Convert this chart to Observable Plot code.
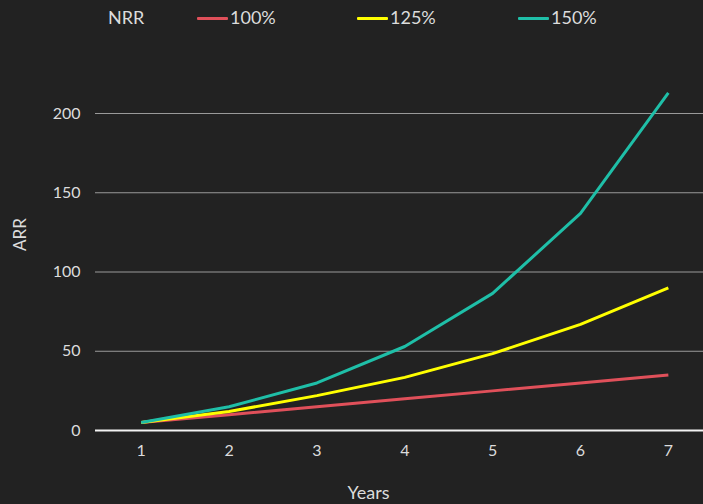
<!DOCTYPE html>
<html>
<head>
<meta charset="utf-8">
<script src="https://cdn.jsdelivr.net/npm/d3@7"></script>
<script src="https://cdn.jsdelivr.net/npm/@observablehq/plot@0.6"></script>
<style>
  html, body { margin: 0; padding: 0; background: #222222; }
  #wrap { width: 703px; height: 504px; background: #222222; font-family: "Lato", "Open Sans", sans-serif; color: #dcdcdc; }
  #legend { position: relative; height: 40px; width: 703px; }
  #legend .t { position: absolute; top: 6px; font-size: 18px; line-height: 22px; }
  #legend .sw { position: absolute; top: 17px; width: 31px; height: 3px; border-radius: 1px; }
  svg { display: block; }
</style>
</head>
<body>
<div id="wrap">
  <div id="legend"></div>
  <div id="chart"></div>
</div>
<script>
const years = [1, 2, 3, 4, 5, 6, 7];
const nrr100 = [5, 10, 15, 20, 25, 30, 35];
const nrr125 = [5, 12, 22, 33.5, 48.5, 67, 90];
const nrr150 = [5, 15, 30, 53, 86.5, 137, 213];
const seriesNames = ["100%", "125%", "150%"];
const seriesColors = ["#e0505a", "#ffff00", "#1fbfa8"];
const yTicks = [0, 50, 100, 150, 200];
const legendTitle = "NRR";

const seriesValues = [nrr100, nrr125, nrr150];
const data = [];
seriesNames.forEach((name, i) => {
  years.forEach((yr, j) => data.push({ year: yr, arr: seriesValues[i][j], series: name }));
});

// Legend
const legend = document.getElementById("legend");
const title = document.createElement("span");
title.className = "t";
title.style.left = "108px";
title.textContent = legendTitle;
legend.appendChild(title);
const swLeft = [197, 357, 518];
seriesNames.forEach((name, i) => {
  const sw = document.createElement("span");
  sw.className = "sw";
  sw.style.left = swLeft[i] + "px";
  sw.style.background = seriesColors[i];
  legend.appendChild(sw);
  const t = document.createElement("span");
  t.className = "t";
  t.style.left = (swLeft[i] + 33) + "px";
  t.textContent = name;
  legend.appendChild(t);
});

const chart = Plot.plot({
  width: 703,
  height: 464,
  marginLeft: 95,
  marginRight: 0,
  marginTop: 73,
  marginBottom: 74,
  style: { background: "#222222", color: "#dcdcdc", fontFamily: "Lato, 'Open Sans', sans-serif", fontSize: "15px" },
  x: { domain: [0.48, 7.4], label: null },
  y: { domain: [0, 200], label: null },
  color: { domain: seriesNames, range: seriesColors },
  marks: [
    Plot.ruleY(yTicks.filter(d => d > 0), { stroke: "#9a9a9a", strokeWidth: 1 }),
    Plot.ruleY([0], { stroke: "#f2f2f2", strokeWidth: 2 }),
    Plot.line(data, { x: "year", y: "arr", z: "series", stroke: "series", strokeWidth: 3, strokeLinejoin: "round", strokeLinecap: "butt" }),
    Plot.axisX({ ticks: years, tickFormat: "d", tickSize: 0, tickPadding: 14, fontSize: 16, label: null, fill: "#dcdcdc" }),
    Plot.axisY({ ticks: yTicks, tickSize: 0, tickPadding: 15, fontSize: 16, label: null, fill: "#dcdcdc" }),
    Plot.text(["Years"], { frameAnchor: "bottom", dx: -31, dy: 68, fontSize: 18, fill: "#dcdcdc" }),
    Plot.text(["ARR"], { frameAnchor: "left", rotate: -90, dx: -75, dy: -21, fontSize: 17, fill: "#dcdcdc" })
  ]
});
document.getElementById("chart").appendChild(chart);
</script>
</body>
</html>
